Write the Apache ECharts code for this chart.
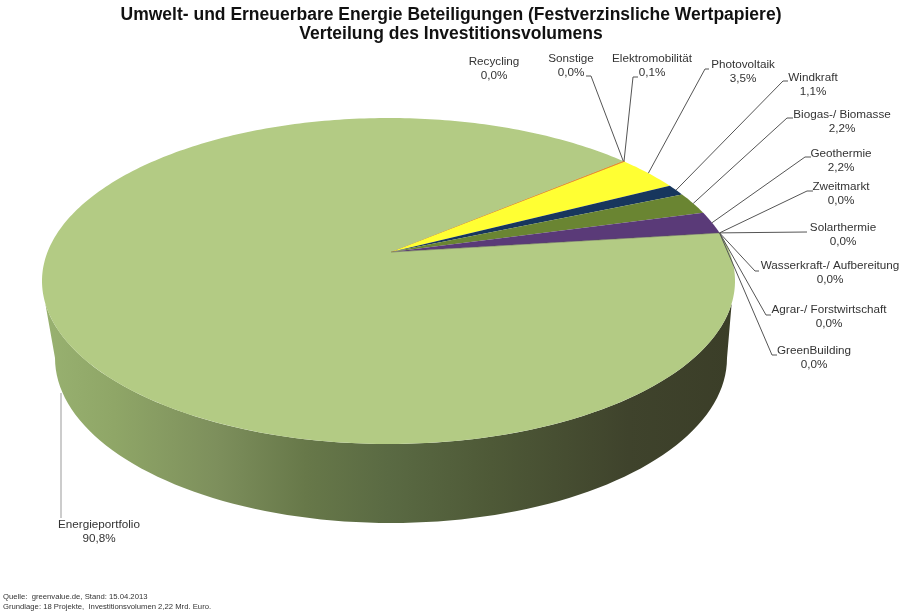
<!DOCTYPE html>
<html>
<head>
<meta charset="utf-8">
<style>html,body{margin:0;padding:0;background:#fff}#c{width:900px;height:613px}</style>
<script src="https://cdn.jsdelivr.net/npm/echarts@6/dist/echarts.min.js"></script>
</head>
<body>
<div id="c"></div>
<script>
// ---- data ----
const categories = ['Recycling','Sonstige','Elektromobilität','Photovoltaik','Windkraft','Biogas-/ Biomasse','Geothermie','Zweitmarkt','Solarthermie','Wasserkraft-/ Aufbereitung','Agrar-/ Forstwirtschaft','GreenBuilding','Energieportfolio'];
const values = [0.0,0.0,0.1,3.5,1.1,2.2,2.2,0.0,0.0,0.0,0.0,0.0,90.8];
// ---- styles and layout ----
const colors = ['#E0892E','#C0504D','#E8892E','#FFFF33','#17365D','#6A8532','#5A3A78','#4BACC6','#F79646','#2C4D75','#772C2A','#5F7530','#B3CB84'];
const labelX = [494,571,652,743,813,842,841,841,843,830,829,814,99];
const labelY = [62,59,59,65,78,115,154,187,228,266,310,351,525];
const elbowA = [null,[591,76],[633,77],[705,69],[783,81],[787,118],[805,157],[807,191],[807,232],[755,271],[766,315],[772,355],null];
const elbowB = [null,[586,76],[638,77],[709,69],[788,81],[793,118],[811,157],[813,191],[807,232],[759,271],[771,315],[777,355],null];
const portfolioLeader = [[61,393],[61,518]];
const top3d = {cx:388.5, cy:281, rx:346.5, ry:163, apexX:391, apexY:252};
const bottom3d = {cx:391, cy:358, rx:336, ry:165};
const startAngle = 39.9;
const total = values.reduce((a,b)=>a+b,0);
const d = (top3d.cy-top3d.apexY)/top3d.ry;
const s = Math.sqrt(1-d*d);
function project(deg){
  const t=deg*Math.PI/180, x=Math.cos(t), y=-Math.sin(t), den=1-d*y;
  return [top3d.cx+top3d.rx*x*s/den, top3d.cy+top3d.ry*(y-d)/den];
}
function sliceAngles(i){
  let before=0; for(let k=0;k<i;k++) before+=values[k];
  const a0=startAngle-before/total*360, a1=a0-values[i]/total*360;
  return [a0,a1];
}
function slicePoints(i){
  const [a0,a1]=sliceAngles(i), pts=[[top3d.apexX,top3d.apexY]];
  const n=Math.max(2,Math.ceil(Math.abs(a0-a1)));
  for(let k=0;k<=n;k++) pts.push(project(a0+(a1-a0)*k/n));
  return pts;
}
function wallPoints(){
  const pts=[];
  for(let a=8;a<=172;a+=2){const t=a*Math.PI/180;pts.push([top3d.cx+top3d.rx*Math.cos(t),top3d.cy+top3d.ry*Math.sin(t)]);}
  for(let a=180;a>=0;a-=2){const t=a*Math.PI/180;pts.push([bottom3d.cx+bottom3d.rx*Math.cos(t),bottom3d.cy+bottom3d.ry*Math.sin(t)]);}
  return pts;
}
const rows = values.map(v=>[v]);
const font = '11.7px "Liberation Sans", Arial, sans-serif';
const option = {
  animation:false,
  backgroundColor:'#fff',
  title:[
    {text:'Umwelt- und Erneuerbare Energie Beteiligungen (Festverzinsliche Wertpapiere)\nVerteilung des Investitionsvolumens',left:451,top:5,padding:0,textAlign:'center',
     textStyle:{fontFamily:'"Liberation Sans", Arial, sans-serif',fontSize:17.5,fontWeight:'bold',color:'#111',lineHeight:19.5}},
    {text:'Quelle:  greenvalue.de, Stand: 15.04.2013\nGrundlage: 18 Projekte,  Investitionsvolumen 2,22 Mrd. Euro.',left:3,top:592,padding:0,
     textStyle:{fontFamily:'"Liberation Sans", Arial, sans-serif',fontSize:7.7,fontWeight:'normal',color:'#333',lineHeight:10}}
  ],
  series:[
    {type:'custom',coordinateSystem:'none',silent:true,z:1,data:[rows[rows.length-1]],
     renderItem(){return {type:'polygon',shape:{points:wallPoints()},style:{fill:{type:'linear',x:0,y:0,x2:1,y2:0,colorStops:[
       {offset:0,color:'#98B170'},{offset:0.1,color:'#8FA667'},{offset:0.25,color:'#7D8F5C'},{offset:0.38,color:'#677849'},
       {offset:0.5,color:'#5A6A43'},{offset:0.65,color:'#4E5937'},{offset:0.85,color:'#3F432C'},{offset:1,color:'#3B3E28'}]}}};}},
    {type:'custom',coordinateSystem:'none',silent:true,z:2,data:rows,
     renderItem(p,api){
       const v=api.value(0);
       if(!(v>0)) return {type:'group',children:[]};
       const thin=v<0.5;
       return {type:'polygon',shape:{points:slicePoints(p.dataIndex)},style:{fill:colors[p.dataIndex],stroke:thin?colors[p.dataIndex]:null,lineWidth:thin?1:0}};
     }},
    {type:'custom',coordinateSystem:'none',silent:true,z:3,data:rows,
     renderItem(p,api){
       const i=p.dataIndex, v=api.value(0), kids=[];
       if(i===6){
         kids.push({type:'polyline',shape:{points:[[top3d.apexX,top3d.apexY],project(sliceAngles(i)[1])]},style:{fill:null,stroke:'rgba(90,90,80,0.55)',lineWidth:1}});
       }
       if(elbowA[i]){
         const [a0,a1]=sliceAngles(i);
         kids.push({type:'polyline',shape:{points:[project((a0+a1)/2),elbowA[i],elbowB[i]]},style:{fill:null,stroke:'#555',lineWidth:1}});
       }
       if(i===values.length-1) kids.push({type:'polyline',shape:{points:portfolioLeader},style:{fill:null,stroke:'#999',lineWidth:1}});
       kids.push({type:'text',style:{text:categories[i],x:labelX[i],y:labelY[i],align:'center',verticalAlign:'middle',font:font,fill:'#333'}});
       kids.push({type:'text',style:{text:v.toFixed(1).replace('.',',')+'%',x:labelX[i],y:labelY[i]+13.5,align:'center',verticalAlign:'middle',font:font,fill:'#333'}});
       return {type:'group',children:kids};
     }}
  ]
};
echarts.init(document.getElementById('c'),null,{renderer:'canvas'}).setOption(option);
</script>
</body>
</html>
